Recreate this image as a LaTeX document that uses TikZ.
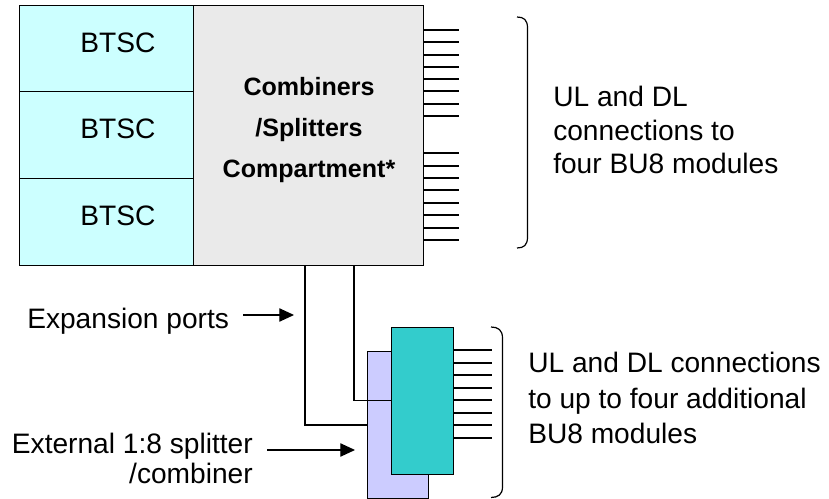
\documentclass[tikz,border=0pt]{standalone}
\usepackage{fontspec}
\setmainfont{Liberation Sans}
\usetikzlibrary{arrows.meta}
\definecolor{btscfill}{HTML}{CCFFFF}
\definecolor{greyfill}{HTML}{EAEAEA}
\definecolor{tealfill}{HTML}{33CCCC}
\definecolor{lavfill}{HTML}{CCCCFF}
\begin{document}
\begin{tikzpicture}[x=0.75pt,y=-0.75pt,
  box/.style={draw=black,line width=1pt,inner sep=0pt,anchor=north west},
  txt/.style={inner sep=0pt,font=\fontsize{21.1pt}{25.5pt}\selectfont},
  bold/.style={inner sep=0pt,align=center,font=\fontsize{18.8pt}{30.75pt}\selectfont\bfseries},
  stub/.style={line width=1.5pt},
  wire/.style={line width=0.8pt},
  brace/.style={line width=0.9pt},
  arr/.style={line width=0.9pt,-{Triangle[length=11pt,width=10pt]}}]
\useasboundingbox (0,0) rectangle (829,499);
% BTSC boxes
\node[box,fill=btscfill,minimum width=130.5pt,minimum height=64.5pt] (b1) at (19,5) {};
\node[box,fill=btscfill,minimum width=130.5pt,minimum height=65.25pt] (b2) at (19,91) {};
\node[box,fill=btscfill,minimum width=130.5pt,minimum height=65.25pt] (b3) at (19,178) {};
\node[txt] (t1) at (118,43) {BTSC};
\node[txt] (t2) at (118,129) {BTSC};
\node[txt] (t3) at (118,216) {BTSC};
% combiner compartment
\node[box,fill=greyfill,minimum width=172.5pt,minimum height=195pt] (grey) at (193,5) {};
\node[bold,anchor=base] (comb) at (309,178) {Combiners\\/Splitters\\Compartment*};
% external splitter
\node[box,fill=lavfill,minimum width=45.75pt,minimum height=110.25pt] (lav) at (367,351) {};
\node[box,fill=tealfill,minimum width=46.5pt,minimum height=110.25pt] (teal) at (391,327) {};
% expansion wires
\draw[wire] (grey.south -| 305,0) |- (lav.west |- 0,425);
\draw[wire] (grey.south -| 354,0) |- (teal.west |- 0,400.7);
% stubs upper
\foreach \y in {30,42.3,54.6,66.9,79.2,91.5,103.8,116.1,153.3,165.7,178.1,190.5,202.9,215.3,227.7,240.1}
  \draw[stub] (grey.east |- 0,\y) -- ++(35,0);
% stubs lower
\foreach \y in {350,362.5,375,387.5,400,412.5,425,437.5}
  \draw[stub] (teal.east |- 0,\y) -- ++(38,0);
% braces
\coordinate (br1a) at (517,17);
\coordinate (br1b) at (517,248);
\draw[brace] (br1a) .. controls (524,17) and (527.5,20) .. (527.5,28) -- (527.5,237) .. controls (527.5,245) and (524,248) .. (br1b);
\coordinate (br2a) at (491,327);
\coordinate (br2b) at (491,497.5);
\draw[brace] (br2a) .. controls (498,327) and (502.5,330) .. (502.5,338) -- (502.5,487) .. controls (502.5,494.5) and (498,497.5) .. (br2b);
% right texts
\node[txt,anchor=base west] (r1) at (553,107) {UL and DL};
\node[txt,anchor=base west] (r2) at (553,140.5) {connections to};
\node[txt,anchor=base west] (r3) at (553,174) {four BU8 modules};
\node[txt,anchor=base west] (s1) at (528,373) {UL and DL connections};
\node[txt,anchor=base west] (s2) at (528,408) {to up to four additional};
\node[txt,anchor=base west] (s3) at (528,443) {BU8 modules};
% left labels and arrows
\node[txt,anchor=base west] (exp) at (27,329) {Expansion ports};
\node[txt,anchor=base east] (ext1) at (253,453) {External 1:8 splitter};
\node[txt,anchor=base east] (ext2) at (253,483) {/combiner};
\coordinate (a1s) at (243,315);
\coordinate (a1e) at (294,315);
\draw[arr] (a1s) -- (a1e);
\coordinate (a2s) at (267,450);
\coordinate (a2e) at (355,450);
\draw[arr] (a2s) -- (a2e);
\end{tikzpicture}
\end{document}
